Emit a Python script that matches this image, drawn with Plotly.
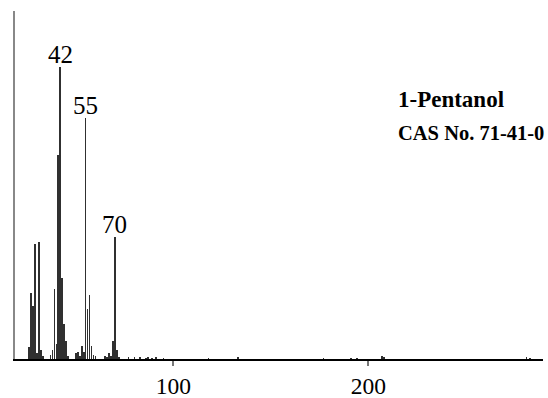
import plotly.graph_objects as go

# m/z values and relative intensities (%)
mz = [26, 27, 28, 29, 30, 31, 32, 33,
      37, 38, 39, 40, 41, 42, 43, 44, 45, 46,
      50, 51, 52, 53, 54, 55, 56, 57, 58, 59, 60,
      65, 66, 67, 68, 69, 70, 71, 72,
      77, 80, 83, 86, 87, 89, 91, 95, 118, 133,
      177, 191, 194, 207, 208, 281, 283]
intensity = [4, 22.7, 18, 39.5, 2, 40, 3, 1,
             1.5, 3, 24, 5, 70, 100, 27.7, 12, 6, 1,
             2, 2.5, 1, 4.5, 2.5, 82.5, 17, 22, 4.5, 1.5, 1,
             1, 0.5, 2, 1, 6, 41.8, 3, 0.5,
             0.4, 0.4, 0.4, 0.3, 0.4, 0.3, 0.4, 0.3, 0.3, 0.4,
             0.3, 0.3, 0.3, 0.9, 0.4, 0.4, 0.3]

peak_labels = [42, 55, 70]
tick_vals = [100, 200]
tick_text = ["100", "200"]
title_lines = ["1-Pentanol", "CAS No. 71-41-0"]

SERIF = "Liberation Serif, Times New Roman, serif"

fig = go.Figure()
fig.add_trace(go.Bar(
    x=mz, y=intensity, width=0.36,
    marker=dict(color="#303030", line=dict(width=0)),
    showlegend=False, hoverinfo="x+y",
))

lookup = dict(zip(mz, intensity))
for p in peak_labels:
    fig.add_annotation(x=p, y=lookup[p], text=str(p), showarrow=False,
                       xanchor="center", yanchor="bottom", yshift=-3,
                       font=dict(family=SERIF, size=25, color="black"))

for txt, ypos, size in zip(title_lines, [0.745, 0.650], [23, 20.5]):
    fig.add_annotation(xref="paper", yref="paper", x=0.722, y=ypos,
                       xanchor="left", yanchor="middle", showarrow=False,
                       text="<b>" + txt + "</b>",
                       font=dict(family=SERIF, size=size, color="black"))

fig.update_layout(
    width=548, height=398,
    margin=dict(l=15, r=5, t=11, b=39, autoexpand=False),
    paper_bgcolor="white", plot_bgcolor="white",
    bargap=0,
    xaxis=dict(range=[18.8, 289.5], showgrid=False, zeroline=False,
               automargin=False,
               showline=True, linecolor="black", linewidth=2,
               ticks="outside", ticklen=5, tickwidth=1.5, tickcolor="#777",
               tickvals=tick_vals, ticktext=tick_text,
               tickfont=dict(family=SERIF, size=23.5, color="black")),
    yaxis=dict(range=[0, 119.2], showgrid=False, zeroline=False,
               automargin=False,
               showline=True, linecolor="#888", linewidth=1.5,
               showticklabels=False, ticks=""),
)

fig.write_html("out.html", config={"displayModeBar": False},
               post_script="document.body.style.margin='0';document.body.style.padding='0';")
